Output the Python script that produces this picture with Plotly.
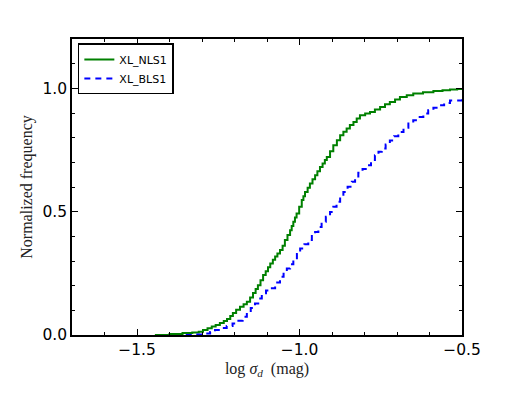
import plotly.graph_objects as go

# Cumulative step curves (x = log sigma_d edge, y = normalized cumulative frequency)
nls1_x = [-1.445, -1.40, -1.36, -1.33, -1.31, -1.297, -1.283, -1.270, -1.258, -1.245,
          -1.233, -1.223, -1.213, -1.205, -1.195, -1.183, -1.172, -1.162, -1.152, -1.143,
          -1.135, -1.128, -1.120, -1.112, -1.104, -1.097, -1.090, -1.082, -1.075, -1.068,
          -1.060, -1.052, -1.045, -1.037, -1.029, -1.024, -1.019, -1.014, -1.009, -1.001,
          -0.993, -0.988, -0.983, -0.975, -0.968, -0.960, -0.952, -0.945, -0.937, -0.929,
          -0.922, -0.916, -0.906, -0.896, -0.885, -0.875, -0.865, -0.855, -0.845, -0.834,
          -0.824, -0.814, -0.798, -0.783, -0.768, -0.752, -0.737, -0.722, -0.706, -0.691,
          -0.670, -0.650, -0.620, -0.588, -0.560, -0.537, -0.515, -0.500]
nls1_y = [0.0, 0.004, 0.008, 0.010, 0.013, 0.020, 0.027, 0.034, 0.041, 0.049,
          0.057, 0.065, 0.077, 0.089, 0.102, 0.115, 0.125, 0.135, 0.152, 0.170,
          0.186, 0.202, 0.222, 0.243, 0.258, 0.275, 0.290, 0.305, 0.318, 0.330,
          0.345, 0.362, 0.385, 0.405, 0.425, 0.442, 0.459, 0.476, 0.493, 0.520,
          0.547, 0.563, 0.580, 0.597, 0.614, 0.631, 0.648, 0.664, 0.681, 0.695,
          0.709, 0.722, 0.745, 0.769, 0.790, 0.810, 0.824, 0.837, 0.851, 0.864,
          0.878, 0.891, 0.898, 0.904, 0.914, 0.924, 0.935, 0.945, 0.955, 0.965,
          0.972, 0.979, 0.984, 0.989, 0.992, 0.995, 0.997, 0.998]

bls1_x = [-1.35, -1.32, -1.291, -1.275, -1.260, -1.242, -1.224, -1.206, -1.188,
          -1.175, -1.162, -1.150, -1.137, -1.127, -1.116, -1.103, -1.090, -1.075, -1.060,
          -1.049, -1.039, -1.029, -1.019, -1.008, -0.998, -0.985, -0.973, -0.962, -0.952,
          -0.942, -0.932, -0.919, -0.906, -0.896, -0.886, -0.875, -0.865, -0.852, -0.839,
          -0.829, -0.819, -0.806, -0.793, -0.780, -0.768, -0.757, -0.747, -0.735, -0.722,
          -0.709, -0.696, -0.680, -0.665, -0.650, -0.634, -0.619, -0.604, -0.588, -0.573,
          -0.555, -0.537, -0.500]
bls1_y = [0.0, 0.002, 0.006, 0.012, 0.020, 0.028, 0.036, 0.047, 0.058,
          0.074, 0.090, 0.109, 0.128, 0.148, 0.169, 0.180, 0.190, 0.213, 0.236,
          0.253, 0.270, 0.287, 0.304, 0.328, 0.351, 0.368, 0.385, 0.401, 0.418,
          0.438, 0.459, 0.479, 0.499, 0.520, 0.540, 0.560, 0.580, 0.601, 0.621,
          0.638, 0.658, 0.673, 0.688, 0.709, 0.729, 0.743, 0.756, 0.772, 0.789,
          0.806, 0.823, 0.840, 0.857, 0.871, 0.884, 0.898, 0.911, 0.921, 0.931,
          0.941, 0.951, 0.956]

x_ticks = [-1.5, -1.0, -0.5]
y_ticks = [0.0, 0.5, 1.0]

series = [("XL_NLS1", nls1_x, nls1_y, "#008000", "solid"),
          ("XL_BLS1", bls1_x, bls1_y, "#0000ff", "6px,5px")]

fig = go.Figure()
for name, xs, ys, color, dash in series:
    fig.add_trace(go.Scatter(x=xs, y=ys, mode="lines", line_shape="hv", name=name,
                             line=dict(color=color, width=2, dash=dash)))

axis_common = dict(showline=True, linecolor="black", linewidth=1.5, mirror="allticks",
                   ticks="inside", ticklen=6, tickwidth=1, tickcolor="black",
                   showgrid=False, zeroline=False,
                   tickfont=dict(family="DejaVu Sans", size=15.5, color="black"))

fig.update_xaxes(range=[-1.7, -0.5], tickvals=x_ticks, tickformat=".1f",
                 minor=dict(ticks="inside", dtick=0.1, tick0=-1.7, ticklen=3, tickcolor="black"),
                 title=dict(text="log <i>σ<sub>d</sub></i>  (mag)",
                            font=dict(family="Liberation Serif", size=16, color="#222"),
                            standoff=4),
                 **axis_common)
fig.update_yaxes(range=[0, 1.2], tickvals=y_ticks, tickformat=".1f",
                 minor=dict(ticks="inside", dtick=0.1, tick0=0, ticklen=3, tickcolor="black"),
                 title=dict(text="Normalized frequency",
                            font=dict(family="Liberation Serif", size=16, color="#222"),
                            standoff=6),
                 **axis_common)

# page body adds an 8px margin, so the figure is sized/margined to compensate
fig.update_layout(
    width=505, height=388,
    margin=dict(l=64, r=51, t=31, b=61),
    plot_bgcolor="white", paper_bgcolor="white",
    legend=dict(x=0.015, y=0.985, xanchor="left", yanchor="top",
                bordercolor="black", borderwidth=1.5, bgcolor="white",
                font=dict(family="DejaVu Sans", size=11, color="black"),
                itemwidth=30, tracegroupgap=0),
)

fig.write_html("out.html")
